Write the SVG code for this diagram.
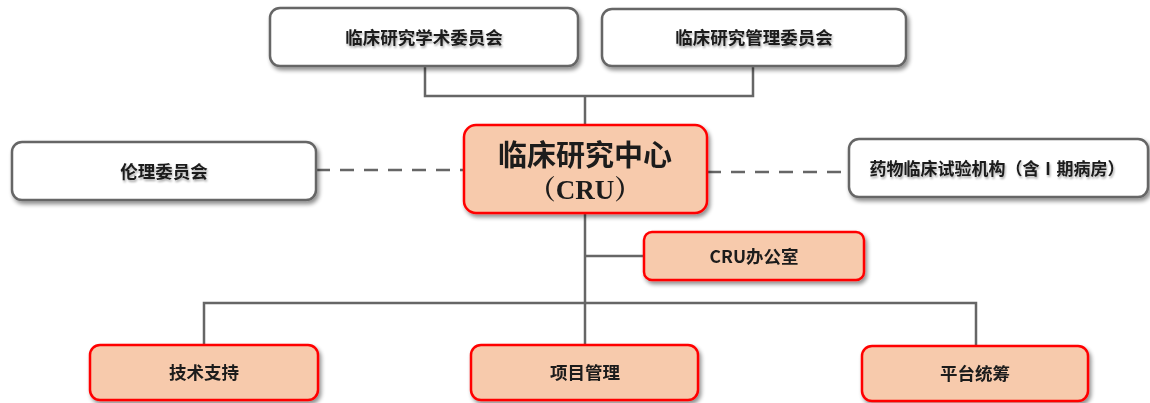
<svg xmlns="http://www.w3.org/2000/svg" width="1150" height="403" viewBox="0 0 1150 403">
<defs>
<filter id="sh" x="-10%" y="-20%" width="125%" height="150%">
<feGaussianBlur in="SourceAlpha" stdDeviation="2"/>
<feOffset dx="2" dy="3" result="b"/>
<feComponentTransfer><feFuncA type="linear" slope="0.45"/></feComponentTransfer>
<feMerge><feMergeNode/><feMergeNode in="SourceGraphic"/></feMerge>
</filter>
<filter id="tsh" x="-10%" y="-30%" width="120%" height="160%">
<feGaussianBlur in="SourceAlpha" stdDeviation="1.2"/>
<feOffset dx="1" dy="2" result="b"/>
<feComponentTransfer><feFuncA type="linear" slope="0.35"/></feComponentTransfer>
<feMerge><feMergeNode/><feMergeNode in="SourceGraphic"/></feMerge>
</filter>
</defs>
<style>
.w{fill:#fff;stroke:#666;stroke-width:2.5}
.o{fill:#F7CAAC;stroke:#FF0000;stroke-width:2.5}
.t{font-family:"Noto Sans CJK SC","Noto Sans",sans-serif;font-weight:bold;font-size:17.5px;fill:#1a1a1a;text-anchor:middle}
.c{fill:none;stroke:#666;stroke-width:2.5}
.d{fill:none;stroke:#666;stroke-width:2.5;stroke-dasharray:14,10}
</style>
<rect width="1150" height="403" fill="#fff"/>
<g id="connectors">
<polyline class="c" points="425,66 425,96 753,96 753,66"/>
<line class="c" x1="585" y1="96" x2="585" y2="125"/>
<line class="c" x1="585" y1="213" x2="585" y2="345"/>
<line class="c" x1="585" y1="256" x2="644" y2="256"/>
<polyline class="c" points="204,345 204,303 976,303 976,345"/>
<line class="d" x1="316" y1="170" x2="463" y2="170"/>
<line class="d" x1="707" y1="172" x2="849" y2="172"/>
</g>
<g id="n-academic" filter="url(#sh)">
<rect class="w" x="270" y="8" width="308" height="58" rx="10"/>
<text class="t" x="424" y="44" filter="url(#tsh)">临床研究学术委员会</text>
</g>
<g id="n-mgmt" filter="url(#sh)">
<rect class="w" x="602" y="9" width="304" height="57" rx="10"/>
<text class="t" x="754" y="44" filter="url(#tsh)">临床研究管理委员会</text>
</g>
<g id="n-ethics" filter="url(#sh)">
<rect class="w" x="12" y="142" width="304" height="58" rx="10"/>
<text class="t" x="164" y="178" filter="url(#tsh)">伦理委员会</text>
</g>
<g id="n-drug" filter="url(#sh)">
<rect class="w" x="849" y="139" width="299" height="58" rx="10"/>
<text class="t" x="997" y="175" style="font-size:17px" filter="url(#tsh)">药物临床试验机构（含Ⅰ期病房）</text>
</g>
<g id="n-cru" filter="url(#sh)">
<rect class="o" x="464" y="125" width="243" height="88" rx="12"/>
<text class="t" x="585" y="166" style="font-size:29px">临床研究中心</text>
<text x="585" y="199" style="font-family:'Liberation Serif','Noto Serif CJK SC',serif;font-weight:bold;font-size:27px;fill:#1a1a1a;text-anchor:middle">（CRU）</text>
</g>
<g id="n-office" filter="url(#sh)">
<rect class="o" x="644" y="232" width="220" height="48" rx="8"/>
<text class="t" x="754" y="263">CRU办公室</text>
</g>
<g id="n-tech" filter="url(#sh)">
<rect class="o" x="90" y="345" width="228" height="55" rx="10"/>
<text class="t" x="204" y="379">技术支持</text>
</g>
<g id="n-proj" filter="url(#sh)">
<rect class="o" x="471" y="345" width="227" height="55" rx="10"/>
<text class="t" x="585" y="379">项目管理</text>
</g>
<g id="n-plat" filter="url(#sh)">
<rect class="o" x="862" y="346" width="226" height="55" rx="10"/>
<text class="t" x="975" y="380">平台统筹</text>
</g>
</svg>
